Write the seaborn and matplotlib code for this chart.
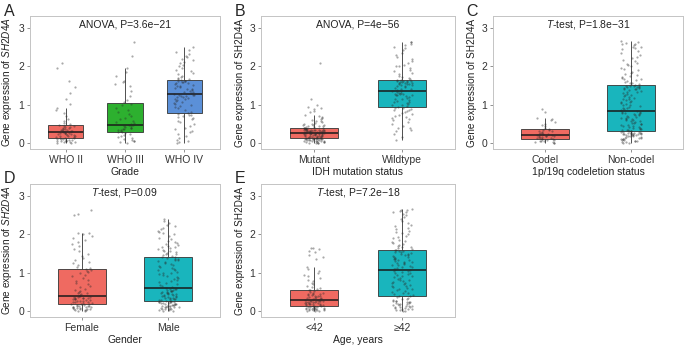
import numpy as np
import pandas as pd
import matplotlib.pyplot as plt
import seaborn as sns

plt.switch_backend('Agg')

# ---- data (expression values per group) ----
who2 = [0.00, 0.01, 0.02, 0.03, 0.03, 0.04, 0.05, 0.05, 0.06, 0.07, 0.08, 0.08, 0.09, 0.10, 0.11, 0.12,
        0.13, 0.14, 0.15, 0.16, 0.17, 0.18, 0.19, 0.20, 0.21, 0.22, 0.23, 0.24, 0.25, 0.26, 0.26, 0.27,
        0.28, 0.29, 0.30, 0.31, 0.32, 0.33, 0.34, 0.35, 0.36, 0.37, 0.38, 0.40, 0.41, 0.42, 0.44, 0.45,
        0.47, 0.50, 0.53, 0.57, 0.62, 0.70, 0.78, 0.86, 0.90, 1.02, 1.15, 1.30, 1.45, 1.62, 1.95, 2.10]
who3 = [0.00, 0.02, 0.04, 0.06, 0.08, 0.10, 0.12, 0.15, 0.18, 0.21, 0.24, 0.26, 0.28,
        0.29, 0.31, 0.33, 0.34, 0.36, 0.37, 0.39, 0.40, 0.42, 0.43, 0.44, 0.46, 0.47,
        0.49, 0.52, 0.55, 0.58, 0.62, 0.66, 0.70, 0.75, 0.80, 0.86, 0.92, 0.98, 1.03,
        1.06, 1.12, 1.22, 1.35, 1.48, 1.55, 1.60, 1.63, 1.75, 1.85, 1.97, 2.28, 2.65]
who4 = [0.00, 0.02, 0.05, 0.08, 0.12, 0.18, 0.22, 0.28, 0.32, 0.36, 0.40, 0.45, 0.50, 0.55, 0.58, 0.62,
        0.65, 0.68, 0.70, 0.72, 0.73, 0.75, 0.78, 0.82, 0.86, 0.90, 0.93, 0.96, 0.99, 1.02, 1.05, 1.08,
        1.10, 1.12, 1.14, 1.16, 1.18, 1.20, 1.21, 1.22, 1.23, 1.24, 1.25, 1.26, 1.28, 1.30, 1.32, 1.34,
        1.36, 1.38, 1.40, 1.42, 1.44, 1.46, 1.48, 1.50, 1.52, 1.54, 1.56, 1.58, 1.59, 1.60, 1.61, 1.62,
        1.63, 1.64, 1.66, 1.68, 1.70, 1.73, 1.76, 1.80, 1.84, 1.88, 1.92, 1.96, 2.00, 2.04, 2.08, 2.12,
        2.16, 2.20, 2.24, 2.28, 2.32, 2.38, 2.44, 2.50]

mutant = [0.00, 0.00, 0.01, 0.01, 0.02, 0.02, 0.03, 0.03, 0.04, 0.04, 0.05, 0.05, 0.06, 0.06, 0.07, 0.07,
          0.08, 0.08, 0.09, 0.09, 0.10, 0.10, 0.10, 0.11, 0.11, 0.11, 0.12, 0.12, 0.12, 0.12,
          0.13, 0.13, 0.14, 0.14, 0.15, 0.15, 0.16, 0.16, 0.17, 0.17, 0.18, 0.18, 0.19, 0.19, 0.20,
          0.20, 0.21, 0.21, 0.22, 0.22, 0.23, 0.23, 0.24, 0.24, 0.25, 0.25, 0.25, 0.26, 0.26, 0.26,
          0.27, 0.27, 0.27, 0.28, 0.28, 0.28, 0.29, 0.29, 0.30, 0.30, 0.30, 0.31, 0.31, 0.32, 0.32,
          0.32, 0.33, 0.33, 0.34, 0.34, 0.34, 0.35, 0.35, 0.35, 0.36, 0.36, 0.37, 0.37, 0.38, 0.38,
          0.39, 0.40, 0.41, 0.42, 0.43, 0.44, 0.45, 0.46, 0.47, 0.48, 0.49, 0.50, 0.52, 0.54, 0.56,
          0.58, 0.60, 0.62, 0.65, 0.68, 0.70, 0.72, 0.80, 0.84, 0.88, 0.91, 0.95, 1.00, 1.15, 2.10]
wildtype = [0.08, 0.15, 0.22, 0.30, 0.35, 0.38, 0.40, 0.45, 0.50, 0.55, 0.60, 0.62, 0.65, 0.68, 0.70,
            0.73, 0.75, 0.78, 0.80, 0.83, 0.85, 0.87, 0.89, 0.90, 0.92,
            0.94, 0.96, 0.98, 1.00, 1.02, 1.04, 1.06, 1.08, 1.10, 1.12, 1.14, 1.16, 1.18, 1.20, 1.22,
            1.24, 1.25, 1.26, 1.27, 1.28, 1.29, 1.30, 1.31, 1.33, 1.35,
            1.36, 1.38, 1.40, 1.42, 1.44, 1.46, 1.48, 1.50, 1.51, 1.52, 1.53, 1.54, 1.55, 1.56, 1.57,
            1.58, 1.59, 1.60, 1.60, 1.61, 1.62, 1.63, 1.63, 1.64, 1.65,
            1.67, 1.70, 1.73, 1.76, 1.80, 1.84, 1.88, 1.92, 1.96, 2.00, 2.02, 2.05, 2.10, 2.15, 2.20,
            2.25, 2.30, 2.35, 2.42, 2.48, 2.52, 2.56, 2.60, 2.63, 2.65]

codel = [0.00, 0.01, 0.02, 0.03, 0.04, 0.05, 0.06, 0.07, 0.08, 0.09, 0.10,
         0.11, 0.12, 0.13, 0.14, 0.15, 0.16, 0.17, 0.18, 0.19, 0.19, 0.20,
         0.21, 0.22, 0.23, 0.24, 0.25, 0.26, 0.28, 0.30, 0.32, 0.34, 0.35,
         0.37, 0.40, 0.43, 0.46, 0.50, 0.55, 0.60, 0.62, 0.65, 0.80, 0.88]
noncodel = [0.00, 0.01, 0.02, 0.03, 0.04, 0.05, 0.06, 0.07, 0.08, 0.09, 0.10, 0.11, 0.12, 0.13, 0.14,
            0.15, 0.16, 0.17, 0.18, 0.19, 0.20, 0.20, 0.21, 0.21, 0.22, 0.22, 0.23, 0.23, 0.24, 0.24,
            0.25, 0.25, 0.26, 0.26, 0.27, 0.27, 0.28, 0.28, 0.29, 0.30,
            0.31, 0.32, 0.33, 0.34, 0.35, 0.36, 0.37, 0.38, 0.40, 0.41, 0.42, 0.44, 0.45, 0.46, 0.48,
            0.49, 0.50, 0.52, 0.53, 0.55, 0.56, 0.58, 0.59, 0.60, 0.62, 0.63, 0.65, 0.66, 0.68, 0.69,
            0.70, 0.72, 0.73, 0.75, 0.76, 0.77, 0.78, 0.79, 0.80, 0.82,
            0.84, 0.86, 0.88, 0.90, 0.92, 0.94, 0.96, 0.98, 1.00, 1.02, 1.04, 1.06, 1.08, 1.10, 1.12,
            1.14, 1.16, 1.18, 1.20, 1.22, 1.24, 1.26, 1.28, 1.30, 1.32, 1.34, 1.36, 1.38, 1.40, 1.41,
            1.42, 1.43, 1.44, 1.45, 1.46, 1.47, 1.48, 1.49, 1.50, 1.50,
            1.52, 1.54, 1.56, 1.58, 1.60, 1.62, 1.64, 1.66, 1.68, 1.70, 1.72, 1.75, 1.78, 1.80, 1.83,
            1.86, 1.90, 1.93, 1.96, 2.00, 2.03, 2.06, 2.10, 2.14, 2.18, 2.22, 2.26, 2.30, 2.35, 2.40,
            2.45, 2.48, 2.50, 2.52, 2.55, 2.58, 2.60, 2.62, 2.64, 2.66]

female = [0.00, 0.01, 0.02, 0.03, 0.03, 0.04, 0.05, 0.05, 0.06, 0.07, 0.08, 0.08, 0.09, 0.10, 0.11,
          0.11, 0.12, 0.13, 0.14, 0.14, 0.15, 0.16, 0.17,
          0.18, 0.19, 0.20, 0.21, 0.22, 0.23, 0.24, 0.25, 0.26, 0.27, 0.28, 0.29, 0.30, 0.31, 0.32,
          0.33, 0.34, 0.34, 0.35, 0.36, 0.36, 0.37, 0.38,
          0.40, 0.42, 0.44, 0.46, 0.48, 0.50, 0.52, 0.55, 0.58, 0.62, 0.65, 0.70, 0.74, 0.78, 0.82,
          0.86, 0.90, 0.94, 0.98, 1.02, 1.05, 1.08, 1.10,
          1.12, 1.15, 1.20, 1.24, 1.28, 1.32, 1.38, 1.44, 1.50, 1.56, 1.62, 1.70, 1.75, 1.80, 1.85,
          1.90, 1.95, 2.00, 2.03, 2.05, 2.52, 2.54, 2.65]
male = [0.00, 0.01, 0.02, 0.03, 0.04, 0.05, 0.05, 0.06, 0.07, 0.08, 0.09, 0.10, 0.10, 0.11, 0.12,
        0.13, 0.14, 0.14, 0.15, 0.16, 0.16, 0.17, 0.18, 0.18, 0.19, 0.20, 0.20, 0.21, 0.22, 0.22,
        0.23, 0.24, 0.24, 0.25,
        0.26, 0.27, 0.28, 0.29, 0.30, 0.31, 0.32, 0.33, 0.34, 0.35, 0.36, 0.37, 0.38, 0.39, 0.40,
        0.41, 0.42, 0.43, 0.44, 0.45, 0.46, 0.47, 0.48, 0.49, 0.50, 0.51, 0.52, 0.53, 0.54, 0.55,
        0.56, 0.57, 0.58, 0.60,
        0.62, 0.65, 0.68, 0.70, 0.72, 0.75, 0.78, 0.80, 0.83, 0.86, 0.88, 0.90, 0.93, 0.96, 0.98,
        1.00, 1.03, 1.06, 1.08, 1.10, 1.13, 1.16, 1.18, 1.20, 1.23, 1.26, 1.28, 1.30, 1.32, 1.34,
        1.36, 1.37, 1.38, 1.40,
        1.42, 1.44, 1.46, 1.48, 1.50, 1.52, 1.54, 1.56, 1.58, 1.60, 1.62, 1.64, 1.66, 1.68, 1.70,
        1.72, 1.75, 1.78, 1.80, 1.84, 1.88, 1.92, 1.96, 2.00, 2.03, 2.06, 2.10, 2.14, 2.18, 2.22,
        2.26, 2.30, 2.35, 2.40]

young = [0.00, 0.01, 0.01, 0.02, 0.02, 0.03, 0.03, 0.04, 0.04, 0.05, 0.05, 0.06, 0.06, 0.07, 0.07,
         0.08, 0.08, 0.09, 0.10, 0.10, 0.11, 0.12, 0.13,
         0.14, 0.15, 0.15, 0.16, 0.17, 0.17, 0.18, 0.19, 0.19, 0.20, 0.21, 0.21, 0.22, 0.23, 0.23,
         0.24, 0.25, 0.25, 0.26, 0.26, 0.27, 0.27, 0.28,
         0.29, 0.30, 0.31, 0.32, 0.33, 0.34, 0.35, 0.36, 0.37, 0.38, 0.39, 0.40, 0.41, 0.42, 0.43,
         0.44, 0.45, 0.46, 0.48, 0.50, 0.52, 0.54, 0.55,
         0.57, 0.60, 0.63, 0.66, 0.70, 0.74, 0.78, 0.82, 0.86, 0.90, 0.95, 1.00, 1.05, 1.10, 1.15,
         1.35, 1.40, 1.45, 1.55, 1.58, 1.62, 1.64, 1.65]
old = [0.00, 0.01, 0.02, 0.03, 0.04, 0.05, 0.06, 0.07, 0.08, 0.09, 0.10, 0.11, 0.12, 0.13, 0.14,
       0.15, 0.16, 0.17, 0.18, 0.19, 0.20, 0.21, 0.22, 0.23, 0.24, 0.25, 0.26, 0.27, 0.28, 0.30,
       0.32, 0.34, 0.36, 0.38,
       0.40, 0.42, 0.44, 0.46, 0.48, 0.50, 0.52, 0.54, 0.56, 0.58, 0.60, 0.62, 0.64, 0.66, 0.68,
       0.70, 0.72, 0.74, 0.76, 0.78, 0.80, 0.82, 0.84, 0.86, 0.88, 0.90, 0.92, 0.94, 0.96, 0.98,
       1.00, 1.02, 1.04, 1.05,
       1.07, 1.09, 1.10, 1.12, 1.14, 1.15, 1.17, 1.19, 1.20, 1.22, 1.24, 1.25, 1.27, 1.29, 1.30,
       1.32, 1.34, 1.35, 1.37, 1.39, 1.40, 1.42, 1.44, 1.45, 1.47, 1.49, 1.50, 1.52, 1.54, 1.55,
       1.57, 1.58, 1.59, 1.60,
       1.62, 1.64, 1.66, 1.68, 1.70, 1.72, 1.75, 1.78, 1.80, 1.83, 1.86, 1.90, 1.93, 1.96, 2.00,
       2.03, 2.06, 2.10, 2.14, 2.18, 2.22, 2.26, 2.30, 2.35, 2.40, 2.45, 2.50, 2.54, 2.58, 2.60,
       2.62, 2.64, 2.65, 2.66]

grade_labels = ['WHO II', 'WHO III', 'WHO IV']
idh_labels = ['Mutant', 'Wildtype']
codel_labels = ['Codel', 'Non-codel']
gender_labels = ['Female', 'Male']
age_labels = ['<42', '\u226542']

# ---- style ----
sns.set_style('white')
plt.rcParams['font.family'] = ['Liberation Sans', 'DejaVu Sans']
plt.rcParams['mathtext.fontset'] = 'custom'
plt.rcParams['mathtext.rm'] = 'Liberation Sans'
plt.rcParams['mathtext.it'] = 'Liberation Sans:italic'

RED, GREEN, BLUE, TEAL = '#EF6A61', '#2DB02F', '#5B90D8', '#19B5BD'
W, H = 688, 347
fig = plt.figure(figsize=(W / 100, H / 100), dpi=100)
np.random.seed(7)


def make_ax(left, top, right, bottom):
    return fig.add_axes([left / W, 1 - bottom / H, (right - left) / W, (bottom - top) / H])


def panel(ax, labels, groups, colors, xlabel, ylabel, note, letter, lx, ly, jit, bw):
    df = pd.DataFrame({'group': np.repeat(labels, [len(g) for g in groups]),
                       'value': np.concatenate(groups)})
    sns.boxplot(data=df, x='group', y='value', hue='group', order=labels, hue_order=labels,
                palette=colors, legend=False, width=bw, showfliers=False, showcaps=False,
                linewidth=0.6, linecolor='#333333', saturation=1,
                medianprops=dict(color='#1a1a1a', linewidth=1.1), ax=ax)
    sns.stripplot(data=df, x='group', y='value', order=labels, color='#2a2a2a', alpha=0.4,
                  size=1.6, linewidth=0, jitter=jit, ax=ax)
    ax.set_ylim(-0.16, 3.32)
    ax.set_xlim(-0.6, len(labels) - 0.4)
    ax.set_yticks([0, 1, 2, 3])
    ax.set_xlabel(xlabel, fontsize=7.5, labelpad=2, color='#222222')
    ax.set_ylabel(ylabel, fontsize=7.2, labelpad=3, color='#222222')
    ax.tick_params(axis='both', labelsize=7.5, length=2.5, width=0.5, color='#666666',
                   labelcolor='#333333', pad=1.5, left=True, bottom=True)
    for s in ax.spines.values():
        s.set_color('#C4C4C4')
        s.set_linewidth(0.7)
    ax.text(0.5 * (len(labels) - 1), 3.1, note, ha='center', va='center', fontsize=7.5,
            color='#222222')
    fig.text(lx / W, 1 - ly / H, letter, fontsize=11.5, ha='left', va='center')


ylab_it = 'Gene expression of $\\it{SH2D4A}$'
ylab = 'Gene expression of SH2D4A'
TT = '$\\it{T}$-test, P='

panel(make_ax(30, 16, 220, 149), grade_labels, [who2, who3, who4], [RED, GREEN, BLUE],
      'Grade', ylab_it, 'ANOVA, P=3.6e\u221221', 'A', 4, 11, 0.17, 0.6)
panel(make_ax(261, 16, 455, 149), idh_labels, [mutant, wildtype], [RED, TEAL],
      'IDH mutation status', ylab, 'ANOVA, P=4e\u221256', 'B', 235, 11, 0.12, 0.55)
panel(make_ax(493, 16, 683, 149), codel_labels, [codel, noncodel], [RED, TEAL],
      '1p/19q codeletion status', ylab, TT + '1.8e\u221231', 'C', 466, 11, 0.12, 0.55)
panel(make_ax(30, 184, 220, 317), gender_labels, [female, male], [RED, TEAL],
      'Gender', ylab_it, TT + '0.09', 'D', 4, 179, 0.12, 0.55)
panel(make_ax(261, 184, 455, 317), age_labels, [young, old], [RED, TEAL],
      'Age, years', ylab, TT + '7.2e\u221218', 'E', 235, 179, 0.12, 0.55)

fig.savefig('out.png', dpi=100, facecolor='white')
